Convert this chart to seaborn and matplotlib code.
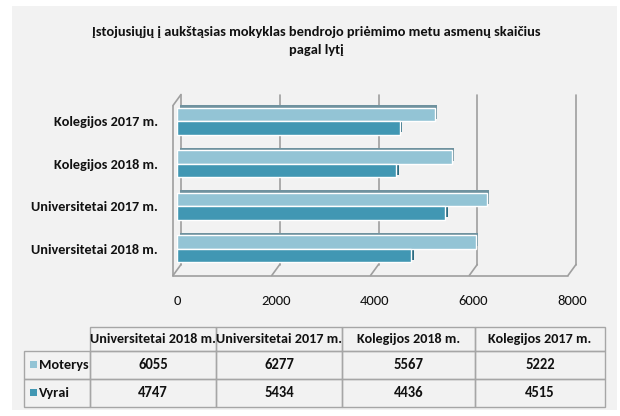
import matplotlib
matplotlib.use('Agg')
import matplotlib.pyplot as plt
import matplotlib.transforms as mtransforms
from matplotlib.patches import Rectangle
import pandas as pd
import seaborn as sns

# Data
categories = ['Universitetai 2018 m.', 'Universitetai 2017 m.', 'Kolegijos 2018 m.', 'Kolegijos 2017 m.']
series = ['Moterys', 'Vyrai']
moterys = [6055, 6277, 5567, 5222]
vyrai = [4747, 5434, 4436, 4515]
x_ticks = [0, 2000, 4000, 6000, 8000]
title = 'Įstojusiųjų į aukštąsias mokyklas bendrojo priėmimo metu asmenų skaičius\npagal lytį'

light = '#93c4d5'
dark = '#4197b3'
light_side = '#6f929f'
dark_side = '#2c6c82'
grid_col = '#9f9f9f'
bg = '#f2f2f2'
txt = '#111111'

sns.set_theme(style='white')
plt.rcParams['font.family'] = ['Carlito', 'Roboto Condensed', 'DejaVu Sans']

W, H = 620, 416
fig = plt.figure(figsize=(W / 100, H / 100), dpi=100)
fig.patch.set_facecolor('white')
fig.patches.append(Rectangle((12 / W, 1 - 410 / H), 605 / W, 404 / H,
                             transform=fig.transFigure, facecolor=bg,
                             edgecolor='none', zorder=-10))

fig.text(316 / W, 1 - 41 / H, title, ha='center', va='center',
         fontsize=10.4, fontweight='bold', linespacing=1.5, color=txt)

# bar axes (middle depth of the 3D box)
left, right, top, bottom = 177, 572, 100, 270
ax = fig.add_axes([left / W, 1 - bottom / H, (right - left) / W, (bottom - top) / H])
ax.set_facecolor('none')

df = pd.DataFrame({
    'Kategorija': categories * 2,
    'Lytis': ['Moterys'] * len(categories) + ['Vyrai'] * len(categories),
    'Skaicius': moterys + vyrai,
})
sns.barplot(data=df, y='Kategorija', x='Skaicius', hue='Lytis',
            order=categories[::-1], hue_order=series,
            palette=[light, dark], saturation=1, width=0.64,
            orient='h', ax=ax, legend=False, zorder=3)

ax.set_xlim(0, 8000)
ax.set_ylim(3.5, -0.5)

# pixel -> data scale
xpp = 8000 / (right - left)
ypp = 4 / (bottom - top)
dx, dy = 4, 5.5  # half depth of 3D box in px

# fake 3D depth on bars
light_rgb = matplotlib.colors.to_rgb(light)
for p in list(ax.patches):
    fc = p.get_facecolor()
    side = light_side if abs(fc[0] - light_rgb[0]) < 0.05 else dark_side
    off = mtransforms.ScaledTranslation(2.5 / 100, 2.5 / 100, fig.dpi_scale_trans)
    sh = Rectangle((p.get_x(), p.get_y()), p.get_width(), p.get_height(),
                   facecolor=side, edgecolor='none', zorder=2,
                   transform=ax.transData + off)
    ax.add_patch(sh)

# walls and gridlines
ytop, ybot = -0.5, 3.5
bxo, byo = dx * xpp, -dy * ypp
fxo, fyo = -dx * xpp, dy * ypp
lk = dict(color=grid_col, lw=1.2, clip_on=False, zorder=1)
for t in x_ticks:
    ax.plot([t + bxo, t + bxo], [ytop + byo, ybot + byo], **lk)
    ax.plot([t + bxo, t + fxo], [ybot + byo, ybot + fyo], **lk)
ax.plot([fxo, 8000 + fxo], [ybot + fyo, ybot + fyo], **lk)
ax.plot([fxo, fxo], [ytop + fyo, ybot + fyo], **lk)
ax.plot([fxo, bxo], [ytop + fyo, ytop + byo], **lk)

for s in ax.spines.values():
    s.set_visible(False)
ax.set_xticks(x_ticks)
ax.set_xticklabels([str(t) for t in x_ticks])
ax.tick_params(axis='x', length=0, pad=18, labelsize=10.5, labelcolor=txt)
ax.tick_params(axis='y', length=0, pad=13.7, labelsize=10.3, labelcolor=txt)
for lab in ax.get_yticklabels():
    lab.set_fontweight('bold')
ax.set_xlabel('')
ax.set_ylabel('')

# data table
col_w = [66, 126, 126, 133, 130]
row_h = [24, 28, 28]
tx0, ty0 = 24, 327
tw, th = sum(col_w), sum(row_h)
axt = fig.add_axes([tx0 / W, 1 - (ty0 + th) / H, tw / W, th / H])
axt.set_xlim(0, tw)
axt.set_ylim(th, 0)
axt.axis('off')

xs = [sum(col_w[:i]) for i in range(len(col_w) + 1)]
ys = [sum(row_h[:i]) for i in range(len(row_h) + 1)]
ek = dict(facecolor='none', edgecolor='#a6a6a6', lw=1, clip_on=False)

for j, cat in enumerate(categories):
    axt.add_patch(Rectangle((xs[j + 1], ys[0]), col_w[j + 1], row_h[0], **ek))
    axt.text((xs[j + 1] + xs[j + 2]) / 2, (ys[0] + ys[1]) / 2, cat,
             ha='center', va='center', fontsize=10.2, fontweight='bold', color=txt)

for i, (name, vals, col) in enumerate(zip(series, [moterys, vyrai], [light, dark])):
    r0, r1 = ys[i + 1], ys[i + 2]
    yc = (r0 + r1) / 2
    axt.add_patch(Rectangle((xs[0], r0), col_w[0], row_h[i + 1], **ek))
    axt.add_patch(Rectangle((6, yc - 4), 7, 7, facecolor=col, edgecolor='none'))
    axt.text(15, yc, name, ha='left', va='center', fontsize=10.3,
             fontweight='bold', color=txt)
    for j, v in enumerate(vals):
        axt.add_patch(Rectangle((xs[j + 1], r0), col_w[j + 1], row_h[i + 1], **ek))
        axt.text((xs[j + 1] + xs[j + 2]) / 2, yc, str(v), ha='center', va='center',
                 fontsize=10.5, fontweight='bold', color=txt)

fig.savefig('out.png', dpi=100)
